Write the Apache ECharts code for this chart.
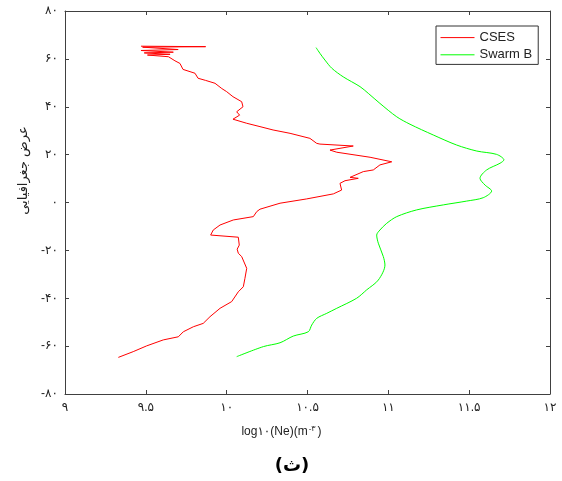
<!DOCTYPE html>
<html>
<head>
<meta charset="utf-8">
<script src="https://cdn.jsdelivr.net/npm/echarts@6/dist/echarts.min.js"></script>
<style>
  html, body { margin: 0; padding: 0; background: #fff; }
  #main { width: 562px; height: 481px; }
</style>
</head>
<body>
<div id="main"></div>
<script>
// tick labels (Persian digits)
const xTicks = [9, 9.5, 10, 10.5, 11, 11.5, 12];
const xTickLabels = ['۹', '۹.۵', '۱۰', '۱۰.۵', '۱۱', '۱۱.۵', '۱۲'];
const yTicks = [-80, -60, -40, -20, 0, 20, 40, 60, 80];
const yTickLabels = ['-۸۰', '-۶۰', '-۴۰', '-۲۰', '۰', '۲۰', '۴۰', '۶۰', '۸۰'];

// CSES: [log10(Ne), latitude]
const csesNe = [9.47, 9.87, 9.48, 9.70, 9.47, 9.67, 9.49, 9.65, 9.51, 9.64,
  9.637, 9.68, 9.711, 9.73, 9.72, 9.804, 9.823, 9.87, 9.928, 9.97, 10.0, 10.039, 10.07, 10.093, 10.101,
  10.062, 10.08, 10.039, 10.124, 10.206, 10.287, 10.392, 10.515, 10.557, 10.577, 10.783, 10.639, 10.681,
  10.887, 11.021, 10.948, 10.907, 10.845, 10.763, 10.814, 10.732, 10.701, 10.711, 10.660, 10.495,
  10.330, 10.206, 10.186, 10.165, 10.041, 9.959, 9.917, 9.901, 10.072, 10.078, 10.065, 10.072, 10.093,
  10.124, 10.113, 10.103, 10.072, 10.031, 9.959, 9.897, 9.855, 9.794, 9.732, 9.701, 9.608, 9.505, 9.422, 9.330];
const csesLat = [65.3, 65.1, 64.9, 63.9, 63.5, 62.8, 62.5, 61.9, 61.6, 60.9,
  60.4, 59.2, 58.1, 55.6, 55.0, 54.0, 51.9, 51.0, 49.8, 47.6, 46.3, 44.2, 43.0, 42.1, 40.0,
  37.9, 36.5, 34.8, 33.1, 31.7, 30.3, 28.9, 26.8, 24.7, 24.4, 23.6, 21.9, 21.0,
  18.9, 17.0, 15.7, 13.6, 12.9, 10.5, 10.1, 9.1, 8.0, 5.2, 3.6, 1.5,
  -0.3, -2.8, -3.8, -5.9, -7.3, -9.4, -11.5, -13.6, -14.5, -17.8, -19.5, -21.2, -22.6,
  -27.5, -31.7, -35.2, -37.3, -41.4, -44.2, -47.7, -50.5, -51.9, -54.0, -56.1, -57.4, -59.9, -62.3, -64.7];

// Swarm B: [log10(Ne), latitude]
const swarmNe = [10.553, 10.565, 10.577, 10.608, 10.650, 10.721, 10.825, 10.876, 10.948, 11.052, 11.134,
  11.278, 11.423, 11.547, 11.670, 11.715, 11.691, 11.608, 11.567, 11.598, 11.639, 11.587, 11.485,
  11.340, 11.175, 11.052, 10.990, 10.948, 10.928, 10.938, 10.969, 10.979, 10.938, 10.866, 10.804,
  10.681, 10.619, 10.557, 10.526, 10.505, 10.412, 10.330, 10.227, 10.062];
const swarmLat = [64.7, 63.5, 62.3, 59.5, 56.1, 52.5, 48.4, 45.6, 41.4, 35.8, 32.7,
  28.2, 24.0, 21.5, 20.1, 17.8, 16.4, 13.6, 10.1, 7.3, 4.8, 2.0, 0.6,
  -1.0, -3.1, -5.9, -8.7, -11.5, -13.6, -17.0, -22.6, -26.1, -32.4, -36.5, -40.0,
  -44.2, -46.3, -48.4, -51.2, -54.0, -55.8, -58.6, -60.2, -64.4];

const csesData = csesNe.map((v, i) => [v, csesLat[i]]);
const swarmData = swarmNe.map((v, i) => [v, swarmLat[i]]);

const FONT = 'Liberation Sans, DejaVu Sans, sans-serif';
const AXC = '#404040';
const RED = '#ff0000';
const GREEN = '#00ff00';

const chart = echarts.init(document.getElementById('main'));

function xLabel(v) {
  const i = xTicks.indexOf(+v.toFixed(2));
  return i < 0 ? '' : xTickLabels[i];
}
function yLabel(v) {
  const i = yTicks.indexOf(Math.round(v));
  return i < 0 ? '' : yTickLabels[i];
}

const option = {
  animation: false,
  backgroundColor: '#fff',
  title: {
    text: '(ث)',
    left: 287,
    top: 452,
    textAlign: 'center',
    textStyle: { fontFamily: 'DejaVu Sans', fontSize: 18, fontWeight: 'bold', color: '#000' }
  },
  grid: { left: 65, right: 12, top: 11, bottom: 87 },
  legend: {
    orient: 'vertical',
    left: 436,
    top: 26,
    backgroundColor: '#fff',
    borderColor: '#333',
    borderWidth: 1,
    borderRadius: 0,
    padding: [5, 6, 3, 4],
    itemGap: 4,
    itemWidth: 34,
    itemHeight: 14,
    itemStyle: { opacity: 0 },
    lineStyle: { width: 1 },
    textStyle: { fontFamily: FONT, fontSize: 13, color: '#222' },
    data: ['CSES', 'Swarm B']
  },
  xAxis: [{
    type: 'value',
    min: 9, max: 12, interval: 0.5,
    axisLine: { onZero: false, lineStyle: { color: AXC, width: 1 } },
    axisTick: { inside: true, length: 4, lineStyle: { color: AXC } },
    axisLabel: { formatter: xLabel, color: '#222', fontFamily: FONT, fontSize: 12, margin: 8 },
    splitLine: { show: false },
    name: 'log۱۰(Ne)(m{s|-۳})',
    nameLocation: 'middle',
    nameGap: 31,
    nameTextStyle: {
      fontFamily: FONT, fontSize: 12, color: '#222',
      padding: [0, 52, 0, 0],
      rich: { s: { fontSize: 8, verticalAlign: 'top', padding: [0, 2, 6, 1], color: '#222', fontFamily: FONT } }
    }
  }, {
    type: 'value', position: 'top',
    min: 9, max: 12, interval: 0.5,
    axisLine: { show: true, onZero: false, lineStyle: { color: AXC, width: 1 } },
    axisTick: { inside: true, length: 4, lineStyle: { color: AXC } },
    axisLabel: { show: false },
    splitLine: { show: false }
  }],
  yAxis: [{
    type: 'value',
    min: -80, max: 80, interval: 20,
    axisLine: { show: true, onZero: false, lineStyle: { color: AXC, width: 1 } },
    axisTick: { inside: true, length: 4, lineStyle: { color: AXC } },
    axisLabel: { formatter: yLabel, color: '#222', fontFamily: FONT, fontSize: 12, margin: 7 },
    splitLine: { show: false },
    name: 'عرض جغرافیایی',
    nameLocation: 'middle',
    nameGap: 32,
    nameTextStyle: {
      fontFamily: 'DejaVu Sans', fontSize: 13, color: '#222',
      padding: [0, 0, 0, 64]
    }
  }, {
    type: 'value', position: 'right',
    min: -80, max: 80, interval: 20,
    axisLine: { show: true, onZero: false, lineStyle: { color: AXC, width: 1 } },
    axisTick: { inside: true, length: 4, lineStyle: { color: AXC } },
    axisLabel: { show: false },
    splitLine: { show: false }
  }],
  series: [{
    name: 'CSES',
    type: 'line',
    data: csesData,
    showSymbol: false,
    color: RED,
    lineStyle: { color: RED, width: 1 },
    itemStyle: { color: RED }
  }, {
    name: 'Swarm B',
    type: 'line',
    data: swarmData,
    showSymbol: false,
    smooth: 0.3,
    color: GREEN,
    lineStyle: { color: GREEN, width: 1 },
    itemStyle: { color: GREEN }
  }]
};

chart.setOption(option);
</script>
</body>
</html>
